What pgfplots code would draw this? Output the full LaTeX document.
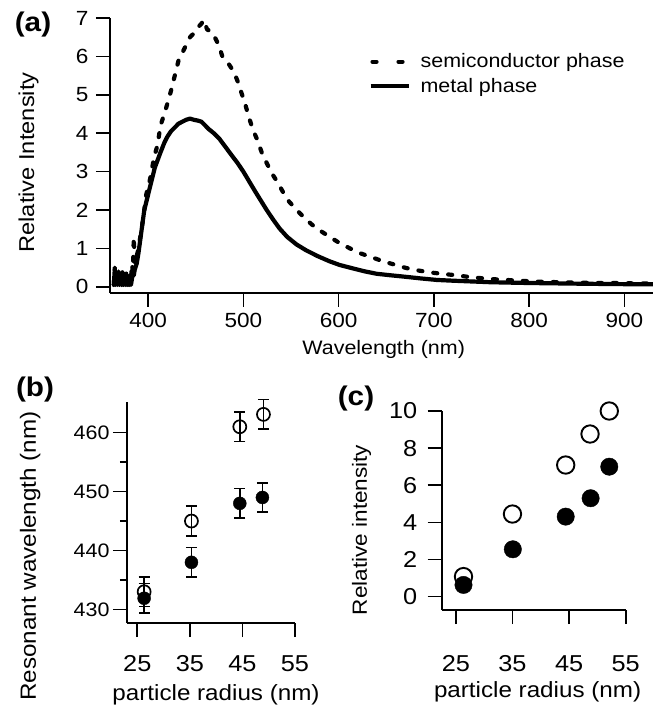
\documentclass[border=0pt]{standalone}
\usepackage{pgfplots}
\pgfplotsset{compat=1.18}
\usepackage{fontspec}
\setmainfont{Liberation Sans}[FakeStretch=1.1]
\newcommand\fs[1]{\fontsize{#1}{#1}\selectfont}

\pgfplotsset{
  panel/.style={
    scale only axis,
    axis x line=bottom, axis y line=left,
    axis line style={-, line width=1.7pt},
    tick align=outside,
    major tick length=14pt,
    minor tick length=7pt,
    tick style={black, line width=1.7pt},
    /pgf/number format/assume math mode=true,
    clip=false,
  },
}

\begin{document}
\begin{tikzpicture}
\path (0pt,0pt) rectangle (662pt,713pt);

% (a) emission spectra
\begin{axis}[panel,
    at={(110pt,420pt)}, anchor=south west,
    width=543pt, height=275pt,
    xmin=360, xmax=930, ymin=-0.16, ymax=7,
    xtick={400,500,...,900}, ytick={0,...,7},
    tick label style={font=\fs{20.5}},
    xticklabel style={yshift=-3pt},
    yticklabel style={xshift=-4pt},
    xlabel={Wavelength (nm)}, ylabel={Relative Intensity},
    xlabel style={font=\fs{19.5}, at={(rel axis cs:0.504,-0.205)}, anchor=center},
    ylabel style={font=\fs{21.5}, at={(rel axis cs:-0.150,0.4745)}, anchor=center},
    legend style={draw=none, fill=none, font=\fs{19.5},
        at={(rel axis cs:0.47,0.885)}, anchor=north west,
        row sep=5pt,
        /tikz/every odd column/.append style={column sep=8pt}},
    legend cell align=left,
    legend image code/.code={\draw[#1] (0pt,0pt) -- (38pt,0pt);},
]
% semiconductor phase
\addplot[black, line width=4.2pt, line cap=round, line join=round,
    dash pattern=on 4pt off 11pt,
    legend image code/.code={\draw[black, line width=4.2pt, line cap=round]
        (2pt,0pt) -- (10pt,0pt) (28pt,0pt) -- (36pt,0pt);}]
coordinates {
(364,0.05) (365,0.5) (366,0.1) (367,0.35) (368,0.05) (369,0.45) (370,0.1)
(371,0.25) (372,0.05) (373,0.4) (374,0.05) (375,0.3) (376,0.05) (377,0.35)
(378,0.05) (379,0.25) (380,0.05) (381,0.35) (382,0.1) (383,0.6) (384,0.4)
(385,1.3) (386,0.6) (388,0.8) (390,1.0) (393,1.5) (395,1.8) (398,2.4)
(402,2.8) (404,3.05) (406,3.35) (410,3.7) (413,4.2) (417,4.5) (420,4.75)
(424,5.1) (428,5.5) (432,5.9) (436,6.1) (440,6.3) (444,6.5) (448,6.6)
(452,6.75) (456,6.85) (458,6.95) (462,6.7) (466,6.65) (470,6.5) (474,6.3)
(478,6.0) (482,5.9) (486,5.75) (490,5.6) (494,5.35) (498,5.05) (502,4.75)
(506,4.4) (510,4.1) (515,3.8) (520,3.45) (525,3.2) (530,2.95) (536,2.72)
(542,2.45) (548,2.22) (556,2.0) (564,1.8) (572,1.62) (582,1.44) (592,1.28)
(601,1.14) (612,1.0) (622,0.88) (635,0.77) (647,0.66) (660,0.57) (671,0.49)
(685,0.42) (698,0.37) (712,0.33) (724,0.3) (736,0.26) (748,0.23) (762,0.2)
(776,0.18) (790,0.16) (804,0.14) (818,0.13) (832,0.12) (850,0.11) (870,0.1)
(890,0.1) (910,0.09) (930,0.09)
};
\addlegendentry{semiconductor phase}
% metal phase
\addplot[black, line width=4.2pt, line join=round]
coordinates {
(364,0.05) (365,0.45) (366,0.05) (367,0.3) (368,0.05) (369,0.4) (370,0.05)
(371,0.2) (372,0.05) (373,0.35) (374,0.05) (375,0.25) (376,0.05) (377,0.3)
(378,0.05) (379,0.2) (380,0.05) (381,0.3) (382,0.05) (383,0.2) (384,0.35)
(385,0.3) (386,0.45) (388,0.6) (390,0.9) (393,1.45) (396,2.0) (400,2.4)
(403,2.7) (407,3.1) (410,3.3) (413,3.5) (417,3.75) (420,3.9) (424,4.05)
(428,4.15) (432,4.25) (436,4.3) (440,4.35) (444,4.38) (448,4.35) (452,4.33)
(456,4.3) (460,4.2) (464,4.1) (469,4.0) (475,3.85) (481,3.65) (487,3.45)
(494,3.22) (500,3.0) (506,2.75) (512,2.5) (517,2.3) (524,2.02) (531,1.76)
(538,1.52) (546,1.3) (556,1.1) (566,0.95) (578,0.8) (590,0.67) (601,0.57)
(615,0.48) (628,0.4) (640,0.34) (655,0.3) (671,0.26) (686,0.22) (703,0.18)
(720,0.16) (740,0.14) (760,0.12) (780,0.11) (800,0.1) (830,0.09) (860,0.08)
(900,0.07) (930,0.07)
};
\addlegendentry{metal phase}
\end{axis}

% (b) resonant wavelength
\begin{axis}[panel,
    at={(127pt,90pt)}, anchor=south west,
    width=168pt, height=221pt,
    xmin=23.04, xmax=55, ymin=427.7, ymax=465.2,
    xtick={25,35,45,55}, ytick={430,440,450,460},
    minor ytick={435,445,455},
    xticklabel style={font=\fs{23}, yshift=-15pt},
    yticklabel style={font=\fs{19.5}},
    xlabel={particle radius (nm)}, ylabel={Resonant wavelength (nm)},
    xlabel style={font=\fs{22}, at={(rel axis cs:0.530,-0.325)}, anchor=center},
    ylabel style={font=\fs{22}, at={(rel axis cs:-0.577,0.303)}, anchor=center},
]
\addplot[only marks, mark=o, mark size=6.5pt, mark options={black, line width=1.7pt},
    error bars/.cd, y dir=both, y explicit,
    error bar style={black, line width=1.7pt},
    error mark options={rotate=90, black, mark size=5.5pt, line width=1.7pt}]
coordinates {
(26.3,433) +- (0,2.5)
(35.3,445) +- (0,2.5)
(44.5,461) +- (0,2.5)
(49.0,463.1) +- (0,2.5)
};
\addplot[only marks, mark=*, mark size=6.5pt, mark options={black},
    error bars/.cd, y dir=both, y explicit,
    error bar style={black, line width=1.7pt},
    error mark options={rotate=90, black, mark size=5.5pt, line width=1.7pt}]
coordinates {
(26.3,431.9) +- (0,2.5)
(35.3,438) +- (0,2.5)
(44.5,448) +- (0,2.5)
(48.8,449) +- (0,2.5)
};
\end{axis}

% (c) relative intensity
\begin{axis}[panel,
    at={(441.7pt,103pt)}, anchor=south west,
    width=184pt, height=199pt,
    xmin=22.5, xmax=55, ymin=-0.72, ymax=10,
    xtick={25,35,45,55}, ytick={0,2,...,10},
    tick label style={font=\fs{23}},
    xticklabel style={yshift=-28pt},
    yticklabel style={xshift=-7pt},
    xlabel={particle radius (nm)}, ylabel={Relative intensity},
    xlabel style={font=\fs{22}, at={(rel axis cs:0.521,-0.412)}, anchor=center},
    ylabel style={font=\fs{20.5}, at={(rel axis cs:-0.435,0.402)}, anchor=center},
]
\addplot[only marks, mark=*, mark size=8.7pt,
    mark options={draw=black, fill=white, line width=1.9pt}]
coordinates {(26.35,1.08) (35.0,4.45) (44.4,7.09) (48.7,8.76) (52.1,10.0)};
\addplot[only marks, mark=*, mark size=8.7pt, mark options={black}]
coordinates {(26.35,0.63) (35.06,2.55) (44.4,4.31) (48.8,5.3) (52.1,7.0)};
\end{axis}

\node[font=\bfseries\fs{27}] at (33pt,688pt) {(a)};
\node[font=\bfseries\fs{27}] at (35pt,323pt) {(b)};
\node[font=\bfseries\fs{27}] at (356pt,314pt) {(c)};
\end{tikzpicture}
\end{document}
